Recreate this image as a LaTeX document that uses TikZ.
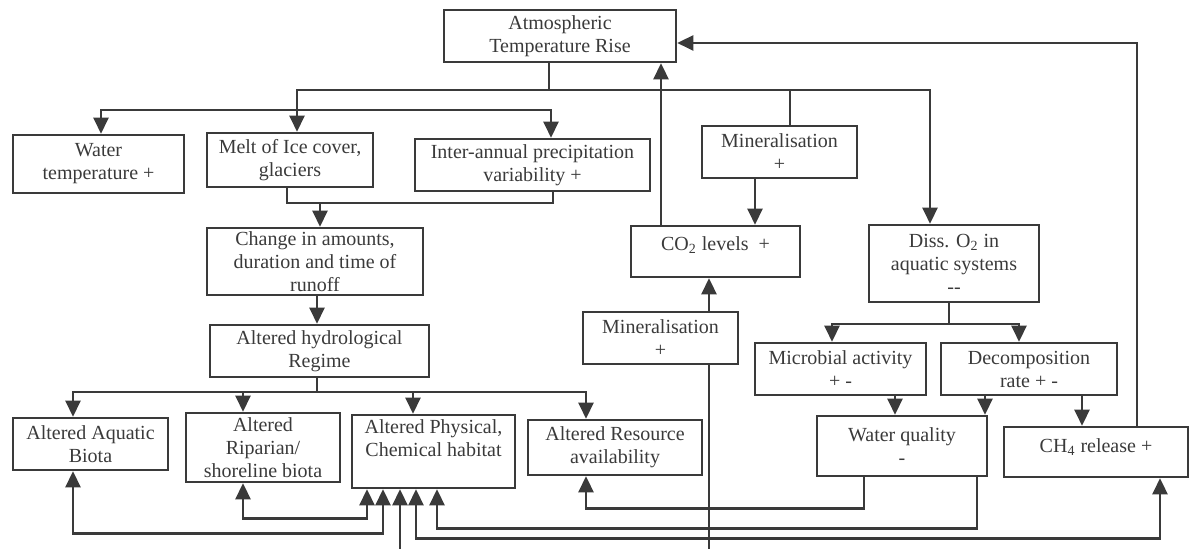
\documentclass[tikz,border=0pt]{standalone}
\usepackage{fontspec}
\setmainfont{Liberation Serif}
\usetikzlibrary{arrows.meta}
\definecolor{ink}{HTML}{3A3A3A}
\tikzset{
  every picture/.style={line width=1.3pt},
  box/.style={draw=ink, text=ink, align=center, inner sep=1pt, font=\fontsize{10}{11.5}\selectfont},
  bw/.style={minimum width=#1*0.5pt},
  bh/.style={minimum height=#1*0.5pt},
  ln/.style={draw=ink},
  arr/.style={-{Triangle[length=8pt, width=7.5pt]}, draw=ink},
  arrs/.style={{Triangle[length=8pt, width=7.5pt]}-{Triangle[length=8pt, width=7.5pt]}, draw=ink},
}

\begin{document}
\begin{tikzpicture}[x=0.5pt, y=-0.5pt]
  \useasboundingbox (0,0) rectangle (1190,549);
  % top row
  \node[box, bw=232, bh=52] (atm) at (560,36) {Atmospheric\\Temperature Rise};
  \node[box, bw=171, bh=58] (wtemp) at (98.5,164) {Water\\temperature +};
  \node[box, bw=166, bh=54] (melt) at (290,160) {Melt of Ice cover,\\glaciers};
  \node[box, bw=235, bh=52] (prec) at (532.5,165) {Inter-annual precipitation\\variability +};
  \node[box, bw=155, bh=52] (minA) at (779.5,152) {Mineralisation\\+};
  % middle
  \node[box, bw=169, bh=51, text depth=8pt] (co2) at (715.5,251.5) {CO\textsubscript{2} levels~~+};
  \node[box, bw=170, bh=77] (disso) at (954,263.5) {Diss. O\textsubscript{2} in\\aquatic systems\\-{}-};
  \node[box, bw=216, bh=67] (change) at (315,261.5) {Change in amounts,\\duration and time of\\runoff};
  \node[box, bw=219, bh=52] (hydro) at (319.5,351) {Altered hydrological\\Regime};
  \node[box, bw=155, bh=52] (minB) at (660.5,338) {Mineralisation\\+};
  \node[box, bw=171, bh=52] (micro) at (840.5,369) {Microbial activity\\+ -};
  \node[box, bw=176, bh=52] (decomp) at (1029,369) {Decomposition\\rate + -};
  \node[box, bw=170, bh=60] (wq) at (902,446) {Water quality\\-};
  \node[box, bw=184, bh=50, text depth=6pt] (ch4) at (1096,452) {CH\textsubscript{4} release +};
  % bottom row
  \node[box, bw=155, bh=52] (aqua) at (90.5,444) {Altered Aquatic\\Biota};
  \node[box, bw=154, bh=69] (ripa) at (263,447.5) {Altered\\Riparian/\\shoreline biota};
  \node[box, bw=163, bh=73, text depth=13pt] (phys) at (433.5,451.5) {Altered Physical,\\Chemical habitat};
  \node[box, bw=174, bh=55] (res) at (615,447.5) {Altered Resource\\availability};

  % junctions and free ends
  \coordinate (j1) at (549,90);
  \coordinate (j2) at (297,110);
  \coordinate (j3) at (790,90);
  \coordinate (j4) at (320,203);
  \coordinate (j5) at (317,392);
  \coordinate (j6) at (949,324);
  \coordinate (inA) at (400,549);
  \coordinate (inB) at (709,549);

  % from the temperature rise
  \draw[ln] (atm.south -| j1) -- (j1);
  \draw[arr] (j1) -| (melt.north -| j2);
  \draw[arr] (j1) -| (disso.north -| 930,0);
  \draw[ln] (minA.north -| j3) -- (j3);
  \draw[arr] (j2) -| (wtemp.north -| 101,0);
  \draw[arr] (j2) -| (prec.north -| 551,0);
  % runoff chain
  \draw[ln] (melt.south -| 287,0) |- (j4) -| (prec.south -| 553,0);
  \draw[arr] (j4) -- (change.north -| j4);
  \draw[arr] (change.south -| 317,0) -- (hydro.north -| 317,0);
  \draw[ln] (hydro.south -| j5) -- (j5);
  \draw[arr] (j5) -| (aqua.north -| 73,0);
  \draw[arr] (j5) -| (ripa.north -| 243,0);
  \draw[arr] (j5) -| (phys.north -| 413,0);
  \draw[arr] (j5) -| (res.north -| 586,0);
  % carbon loop
  \draw[arr] (minA.south -| 755,0) -- (co2.north -| 755,0);
  \draw[arr] (co2.north -| 661,0) -- (atm.south -| 661,0);
  \draw[arr] (minB.north -| 709,0) -- (co2.south -| 709,0);
  \draw[ln] (inB) -- (minB.south -| inB);
  % oxygen side
  \draw[ln] (disso.south -| j6) -- (j6);
  \draw[arr] (j6) -| (micro.north -| 832,0);
  \draw[arr] (j6) -| (decomp.north -| 1019,0);
  \draw[arr] (micro.south -| 895,0) -- (wq.north -| 895,0);
  \draw[arr] (decomp.south -| 985,0) -- (wq.north -| 985,0);
  \draw[arr] (decomp.south -| 1082,0) -- (ch4.north -| 1082,0);
  \draw[arr] (ch4.north -| 1137,0) |- (atm.east |- 0,43);
  % back to the habitats
  \draw[arr] (wq.south -| 864,0) -- ++(0,31) -| (res.south -| 586,0);
  \draw[arr] (wq.south -| 977,0) -- ++(0,51) -| (phys.south -| 437,0);
  \draw[arrs] (aqua.south -| 73,0) -- ++(0,62) -| (phys.south -| 383,0);
  \draw[arrs] (ripa.south -| 243,0) -- ++(0,35) -| (phys.south -| 367,0);
  \draw[arrs] (phys.south -| 416,0) -- ++(0,49) -| (ch4.south -| 1160,0);
  \draw[arr] (inA) -- (phys.south -| inA);
\end{tikzpicture}
\end{document}
